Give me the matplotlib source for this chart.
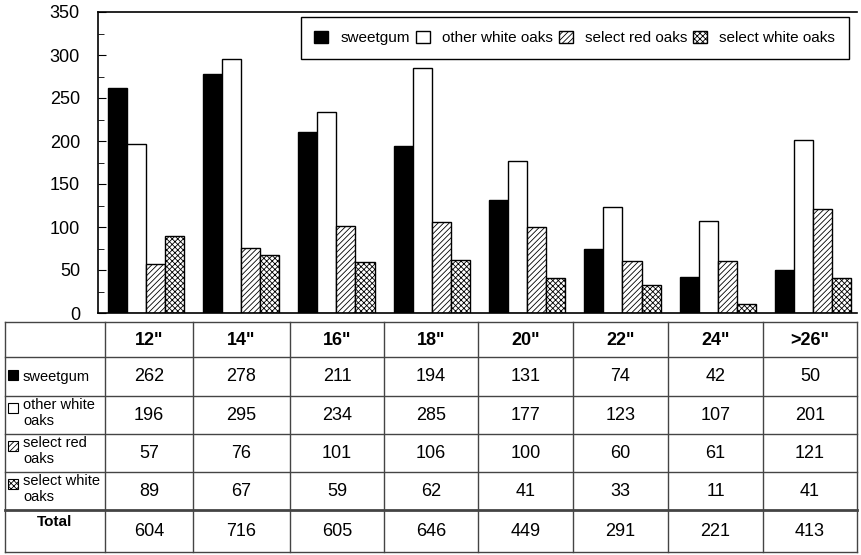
import matplotlib.pyplot as plt
import numpy as np

plt.rcParams['font.family'] = ['Liberation Sans', 'DejaVu Sans']
plt.rcParams['hatch.linewidth'] = 0.6

sizes = ['12"', '14"', '16"', '18"', '20"', '22"', '24"', '>26"']
sweetgum = [262, 278, 211, 194, 131, 74, 42, 50]
other_white = [196, 295, 234, 285, 177, 123, 107, 201]
select_red = [57, 76, 101, 106, 100, 60, 61, 121]
select_white = [89, 67, 59, 62, 41, 33, 11, 41]
totals = [604, 716, 605, 646, 449, 291, 221, 413]

names = ['sweetgum', 'other white oaks', 'select red oaks', 'select white oaks']
row_labels = ['sweetgum', 'other white\noaks', 'select red\noaks', 'select white\noaks']
series = [sweetgum, other_white, select_red, select_white]
colors = ['black', 'white', 'white', 'white']
hatches = [None, None, '//////', 'xxxxxx']

W, H = 862, 555
fig = plt.figure(figsize=(W / 100, H / 100), dpi=100)

# bar chart
ax = fig.add_axes([98 / W, (H - 313) / H, (857 - 98) / W, (313 - 12) / H])
x = np.arange(len(sizes))
bw = 0.2
for i, (vals, c, h, n) in enumerate(zip(series, colors, hatches, names)):
    ax.bar(x + (i - 1.5) * bw, vals, bw, color=c, edgecolor='black',
           hatch=h, linewidth=1.0, label=n)
ax.set_xlim(-0.5, 7.46)
ax.set_ylim(0, 350)
ax.set_yticks(range(0, 351, 50))
ax.set_yticks(range(25, 350, 50), minor=True)
ax.set_xticks([])
ax.tick_params(axis='y', direction='in', length=6, pad=13, labelsize=13)
ax.tick_params(axis='y', which='minor', direction='in', length=4)
ax.spines['right'].set_visible(False)
for s in ['top', 'left', 'bottom']:
    ax.spines[s].set_linewidth(1.2)
leg = ax.legend(ncol=4, loc='upper right', bbox_to_anchor=(0.9895, 0.984),
                fancybox=False, edgecolor='black', framealpha=1, fontsize=11,
                handlelength=0.9, handleheight=0.9, handletextpad=0.8,
                columnspacing=0.4, borderpad=0.9, borderaxespad=0)
leg.get_frame().set_linewidth(1.0)

# data table drawn in pixel coordinates
tb = fig.add_axes([0, 0, 1, 1])
tb.set_xlim(0, W)
tb.set_ylim(H, 0)
tb.axis('off')
xs = [5, 105, 193, 290, 384, 478, 573, 668, 763, 857]
ys = [322, 357, 396, 434, 472, 510, 552]
for xv in xs:
    tb.plot([xv, xv], [ys[0], ys[-1]], color='#444444', lw=1.0)
for yv in ys:
    tb.plot([xs[0], xs[-1]], [yv, yv], color='#444444', lw=2.0 if yv == 510 else 1.0)

for j, s in enumerate(sizes):
    cx = (xs[j + 1] + xs[j + 2]) / 2
    tb.text(cx, (ys[0] + ys[1]) / 2 + 1, s, ha='center', va='center',
            fontsize=13, fontweight='bold')

for r, (lab, vals) in enumerate(zip(row_labels, series)):
    y0, y1 = ys[r + 1], ys[r + 2]
    for j, v in enumerate(vals):
        cx = (xs[j + 1] + xs[j + 2]) / 2
        tb.text(cx, (y0 + y1) / 2, str(v), ha='center', va='center', fontsize=13)
    # small legend key in the row label cell
    ky = y0 + 13 if '\n' not in lab else y0 + 7
    tb.add_patch(plt.Rectangle((8, ky), 10, 10, facecolor=colors[r],
                               edgecolor='black', hatch=hatches[r], lw=0.8))
    if '\n' in lab:
        tb.text(23, y0 + 2, lab, ha='left', va='top', fontsize=10.5, linespacing=1.15)
    else:
        tb.text(23, (y0 + y1) / 2, lab, ha='left', va='center', fontsize=10.5)

tb.text((xs[0] + xs[1]) / 2, ys[5] + 12, 'Total', ha='center', va='center',
        fontsize=11, fontweight='bold')
for j, t in enumerate(totals):
    cx = (xs[j + 1] + xs[j + 2]) / 2
    tb.text(cx, (ys[5] + ys[6]) / 2, str(t), ha='center', va='center', fontsize=13)

fig.savefig('out.png', dpi=100)
